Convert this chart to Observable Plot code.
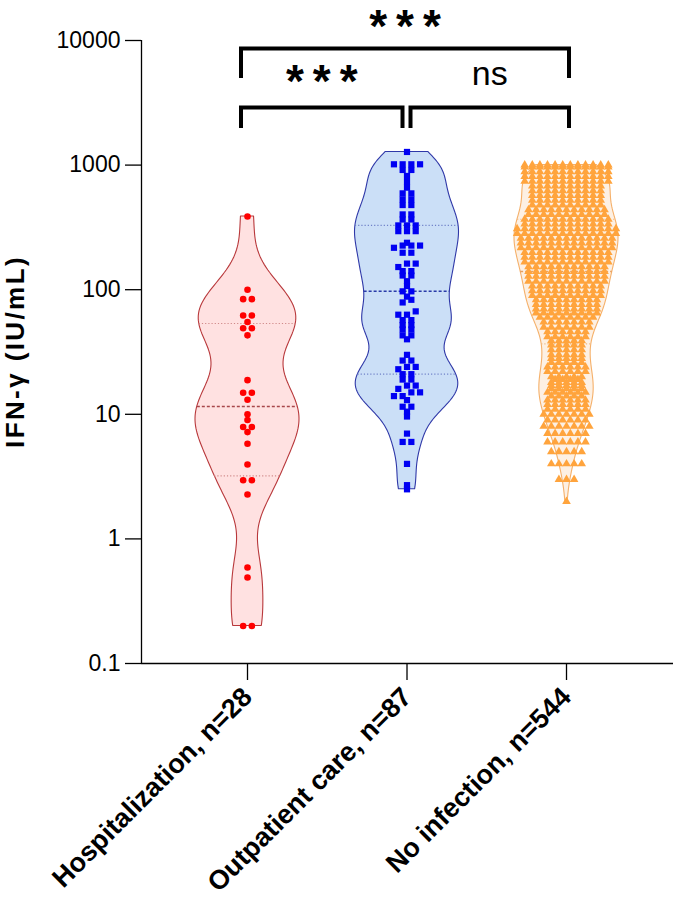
<!DOCTYPE html>
<html>
<head>
<meta charset="utf-8">
<script src="https://cdn.jsdelivr.net/npm/d3@7"></script>
<script src="https://cdn.jsdelivr.net/npm/@observablehq/plot@0.6"></script>
<style>
  body { margin: 0; background: #fff; }
  #chart svg { display: block; }
</style>
</head>
<body>
<div id="chart"></div>
<script>
// ---------- data ----------
const categories = ["Hospitalization, n=28", "Outpatient care, n=87", "No infection, n=544"];

const hospitalization = [387, 100, 84, 84, 62, 62, 55, 49, 49, 43,
  18.8, 14.9, 14.9, 13.1, 10, 9.0, 7.9, 7.9, 7.2, 5.8, 3.95, 2.96, 2.96, 2.27,
  0.59, 0.49, 0.2, 0.2];

const outpatient = [1275, 1015, 1015, 1015, 1015, 914, 914, 818, 731, 659,
  593, 593, 531, 531, 478, 478, 402, 402, 366, 366, 328, 328, 328, 295, 295, 295,
  238, 226, 226, 226, 217, 198, 198, 162, 162, 152, 141, 141, 130, 130, 117, 107,
  97, 97, 88, 83, 79, 67, 63, 63, 57, 57, 52, 52, 48, 48, 43, 43, 40,
  30, 27, 27, 24, 24, 23, 21, 21, 19, 19, 17, 17, 16, 15, 15, 14, 14, 13,
  11.5, 11.5, 10.5, 9.6, 7.0, 6.0, 6.0, 4.0, 2.7, 2.5];

// No infection: distinct measured levels and how many participants sit on each
const noInfectionLevels = [2, 3, 4, 5, 6, 7, 8, 9, 10, 11, 12, 13, 14, 15, 16, 17, 18, 19, 20,
  22, 24, 26, 28, 30, 33, 36, 39, 42, 46, 50, 55, 60, 65, 70, 76, 83, 90, 98, 107,
  117, 128, 140, 153, 167, 182, 199, 217, 237, 259, 283, 309, 337, 368, 401, 438,
  478, 522, 570, 622, 679, 741, 809, 883, 964, 1000];
const noInfectionCounts = [1, 3, 5, 5, 6, 6, 7, 6, 7, 6, 6, 6, 5, 6, 5, 5, 5, 4, 5,
  6, 6, 5, 5, 5, 5, 5, 5, 6, 6, 7, 7, 8, 9, 9, 9, 9, 10, 10, 10,
  11, 11, 11, 11, 12, 12, 12, 13, 13, 13, 14, 14, 12, 12, 11, 11,
  10, 10, 10, 10, 10, 12, 12, 12, 12, 12];
const noInfection = noInfectionLevels.flatMap((v, i) => Array(noInfectionCounts[i]).fill(v));

const yTicks = [0.1, 1, 10, 100, 1000, 10000];
const yTickLabels = ["0.1", "1", "10", "100", "1000", "10000"];
const yLabel = "IFN-γ (IU/mL)";

const comparisons = [
  {from: 1, to: 2, tier: 0, label: "***"},
  {from: 2, to: 3, tier: 0, label: "ns"},
  {from: 1, to: 3, tier: 1, label: "***"}
];

// ---------- layout / style ----------
const W = 673, H = 898;
const M = {top: 40, right: 0, bottom: 235, left: 141};
const xDomain = [0.3354, 3.6708];
const yDomain = [0.1, 10000];
const pxPerUnit = (W - M.left - M.right) / (xDomain[1] - xDomain[0]);
const maxHalfPx = 52;
const font = "'Liberation Sans', Arial, Helvetica, sans-serif";

const groups = [
  {values: hospitalization, symbol: "circle", r: 3.3, dot: "#FF0000",
   fill: "#FFE1E1", stroke: "#B8383B", med: "#A8484B", quart: "#D08A8A", spacing: 8.7, rowH: 0.03, bwf: 0.62},
  {values: outpatient, symbol: "square", r: 3.5, dot: "#0000F2",
   fill: "#CBDFF7", stroke: "#2F38A8", med: "#2A3BA8", quart: "#6F80C8", spacing: 8.7, rowH: 0.03, bwf: 0.55},
  {values: noInfection, symbol: "triangle", r: 3.2, dot: "#FFA43D",
   fill: "#FDF0E3", stroke: "#F5B06A", med: "#E8A060", quart: "#F0B880", spacing: 7.6, rowH: 0.012, bwf: 0.75}
];

// ---------- helpers ----------
function gpQuantile(sorted, p) {           // (n+1)p convention
  const n = sorted.length, pos = (n + 1) * p;
  const i = Math.floor(pos), f = pos - i;
  if (i < 1) return sorted[0];
  if (i >= n) return sorted[n - 1];
  return sorted[i - 1] + f * (sorted[i] - sorted[i - 1]);
}
function bandwidth(logs) {
  const s = logs.slice().sort(d3.ascending);
  const sd = d3.deviation(s);
  const iqr = d3.quantile(s, 0.75) - d3.quantile(s, 0.25);
  return 0.9 * Math.min(sd, iqr / 1.34) * Math.pow(s.length, -0.2);
}
function densityAt(logs, bw, t) {
  return d3.sum(logs, l => Math.exp(-0.5 * ((t - l) / bw) ** 2));
}

const violinRows = [], medianRows = [], quartRows = [], dotSets = [];
groups.forEach((g, gi) => {
  const center = gi + 1;
  const logs = g.values.map(Math.log10);
  const bw = bandwidth(logs) * g.bwf;
  const lo = d3.min(logs), hi = d3.max(logs);
  const N = 160;
  const grid = d3.range(N + 1).map(i => lo + (hi - lo) * i / N);
  const dens = grid.map(t => densityAt(logs, bw, t));
  const dmax = d3.max(dens);
  const scaleW = (maxHalfPx / pxPerUnit) / dmax;
  grid.forEach((t, i) => {
    const w = dens[i] * scaleW;
    violinRows.push({g: gi, y: Math.pow(10, t), x1: center - w, x2: center + w});
  });
  const sorted = g.values.slice().sort(d3.ascending);
  const qs = [gpQuantile(sorted, 0.25), gpQuantile(sorted, 0.5), gpQuantile(sorted, 0.75)];
  qs.forEach((q, k) => {
    const w = densityAt(logs, bw, Math.log10(q)) * scaleW;
    const row = {y: q, x1: center - w, x2: center + w, c: k === 1 ? g.med : g.quart};
    (k === 1 ? medianRows : quartRows).push(row);
  });
  // rows of points, spread symmetrically
  const pts = sorted.map(v => ({v, l: Math.log10(v)}));
  const out = [];
  let row = [];
  const flush = r => r.forEach((p, i) => out.push({
    value: p.v, x: center + (i - (r.length - 1) / 2) * g.spacing / pxPerUnit}));
  for (const p of pts) {
    if (row.length && p.l - row[0].l > g.rowH) { flush(row); row = []; }
    row.push(p);
  }
  flush(row);
  dotSets.push(out);
});

function annotations(index, scales, values, dims) {
  const sx = scales.x;
  const g = d3.create("svg:g").attr("font-family", font);
  const tiers = [
    {line: dims.marginTop + 67.5, end: dims.marginTop + 88, labelDy: {"***": -11, "ns": -22.5}},
    {line: dims.marginTop + 8.5, end: dims.marginTop + 38, labelDy: {"***": -6.5, "ns": -22.5}}
  ];
  for (const c of comparisons) {
    const t = tiers[c.tier];
    const x1 = sx(c.from) + (c.from === 2 ? 4 : -6);
    const x2 = sx(c.to) + (c.to === 2 ? -4 : 3);
    g.append("path")
      .attr("d", `M${x1},${t.end}V${t.line}H${x2}V${t.end}`)
      .attr("fill", "none").attr("stroke", "#000").attr("stroke-width", 4);
    const stars = c.label !== "ns";
    g.append("text")
      .attr("x", (x1 + x2) / 2 + (stars ? 4.5 : 0))
      .attr("y", t.line + t.labelDy[c.label])
      .attr("text-anchor", "middle")
      .attr("font-size", stars ? 46 : 34)
      .attr("font-weight", stars ? "bold" : "normal")
      .attr("letter-spacing", stars ? "9px" : "0px")
      .attr("fill", "#000")
      .text(c.label);
  }
  const cy = (dims.marginTop + dims.height - dims.marginBottom) / 2;
  g.append("text")
    .attr("transform", `translate(15,${cy}) rotate(-90)`)
    .attr("text-anchor", "middle").attr("dy", "0.35em")
    .attr("font-size", 26).attr("font-weight", "bold")
    .attr("letter-spacing", "2.4px")
    .attr("fill", "#000")
    .text(yLabel);
  return g.node();
}

const marks = [];
groups.forEach((g, gi) => {
  marks.push(Plot.areaX(violinRows.filter(d => d.g === gi), {
    y: "y", x1: "x1", x2: "x2", fill: g.fill, stroke: g.stroke, strokeWidth: 1.1, curve: "linear"}));
});
marks.push(Plot.ruleY(quartRows, {y: "y", x1: "x1", x2: "x2", stroke: "c", strokeWidth: 1.1, strokeDasharray: "1.2,2"}));
marks.push(Plot.ruleY(medianRows, {y: "y", x1: "x1", x2: "x2", stroke: "c", strokeWidth: 1.5, strokeDasharray: "3,2"}));
groups.forEach((g, gi) => {
  marks.push(Plot.dot(dotSets[gi], {x: "x", y: "value", symbol: g.symbol, r: g.r, fill: g.dot, stroke: "none"}));
});
marks.push(Plot.ruleX([xDomain[0]], {stroke: "#000", strokeWidth: 1.3}));
marks.push(Plot.ruleY([yDomain[0]], {stroke: "#000", strokeWidth: 1.3}));
marks.push(Plot.axisY({ticks: yTicks, tickFormat: (d) => yTickLabels[yTicks.indexOf(d)], tickSize: 16, tickPadding: 5,
  fontSize: 23, strokeWidth: 1.3, label: null}));
marks.push(Plot.axisX({ticks: [1, 2, 3], tickFormat: d => categories[d - 1], tickRotate: -45, tickSize: 17,
  tickPadding: 12, fontSize: 27, fontWeight: "bold", strokeWidth: 1.3, label: null}));
marks.push(annotations);

const chart = Plot.plot({
  width: W, height: H,
  marginTop: M.top, marginRight: M.right, marginBottom: M.bottom, marginLeft: M.left,
  style: {fontFamily: font, color: "#000", background: "#fff", overflow: "visible"},
  x: {type: "linear", domain: xDomain},
  y: {type: "log", domain: yDomain},
  marks
});
document.getElementById("chart").append(chart);
</script>
</body>
</html>
